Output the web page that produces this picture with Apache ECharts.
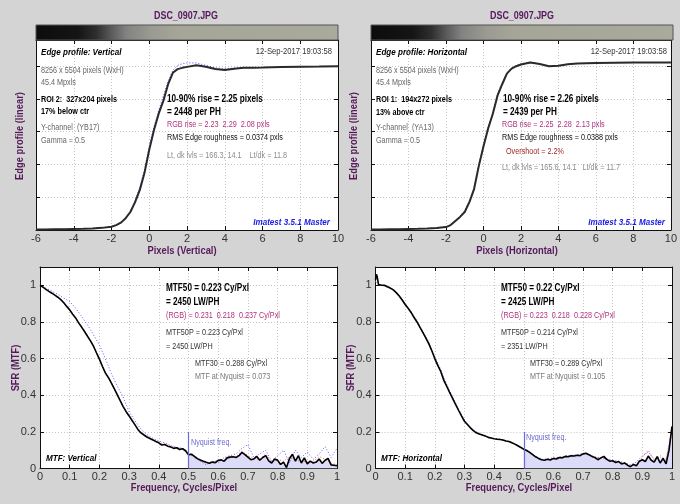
<!DOCTYPE html>
<html><head><meta charset="utf-8">
<script src="https://cdn.jsdelivr.net/npm/echarts@6/dist/echarts.min.js"></script>
<style>html,body{margin:0;padding:0;background:#d4d4d4;}#c{width:680px;height:504px;}</style>
</head><body><div id="c"></div>
<script>
// ---------- DATA ----------
const edgeX = [-6,-5.5,-5,-4.5,-4,-3.5,-3,-2.5,-2,-1.75,-1.5,-1.25,-1,-0.75,-0.5,-0.25,0,0.25,0.5,0.75,1,1.25,1.5,1.75,2,2.5,3,3.5,4,4.5,5,5.5,6,7,8,9,10];
const edgeV = [0.003,0.003,0.004,0.005,0.006,0.007,0.009,0.013,0.02,0.03,0.045,0.072,0.11,0.17,0.245,0.35,0.49,0.61,0.71,0.79,0.89,0.96,0.982,0.99,0.996,1.006,0.997,0.983,0.977,0.985,0.99,0.991,0.992,0.995,0.997,0.998,1.0];
const edgeBlueV = [0.004,0.004,0.005,0.006,0.007,0.008,0.01,0.014,0.022,0.032,0.048,0.075,0.115,0.18,0.26,0.37,0.51,0.63,0.73,0.82,0.91,0.975,1.005,1.015,1.02,1.02,1.005,0.99,0.985,0.988,0.99,0.99,0.992,0.994,0.996,0.997,0.998];
const edgeH = [0.003,0.003,0.004,0.005,0.006,0.007,0.009,0.012,0.018,0.03,0.055,0.08,0.11,0.17,0.25,0.39,0.51,0.62,0.71,0.82,0.89,0.955,0.985,1.0,1.01,1.022,1.013,1.0,1.003,1.012,1.016,1.018,1.02,1.021,1.022,1.022,1.022];
const edgeBlueH = [0.003,0.003,0.004,0.005,0.006,0.007,0.009,0.013,0.02,0.032,0.058,0.085,0.118,0.18,0.26,0.4,0.52,0.63,0.72,0.83,0.9,0.96,0.99,1.005,1.015,1.025,1.015,1.002,1.003,1.012,1.016,1.018,1.02,1.021,1.022,1.022,1.022];

const mtfFreqV = [0,0.01,0.02,0.03,0.04,0.05,0.06,0.07,0.08,0.09,0.1,0.11,0.12,0.13,0.14,0.15,0.16,0.17,0.18,0.19,0.2,0.21,0.22,0.23,0.24,0.25,0.26,0.27,0.28,0.29,0.3,0.31,0.32,0.33,0.34,0.35,0.36,0.37,0.38,0.39,0.4,0.41,0.42,0.43,0.44,0.45,0.46,0.47,0.48,0.49,0.5,0.51,0.52,0.53,0.54,0.55,0.56,0.57,0.58,0.59,0.6,0.61,0.62,0.63,0.64,0.65,0.66,0.67,0.68,0.69,0.7,0.71,0.72,0.73,0.74,0.75,0.76,0.77,0.78,0.79,0.8,0.81,0.82,0.83,0.84,0.85,0.86,0.87,0.88,0.89,0.9,0.91,0.92,0.93,0.94,0.95,0.96,0.97,0.98,0.99,1];
const mtfV = [1,0.99,0.978,0.967,0.957,0.946,0.935,0.922,0.905,0.885,0.866,0.842,0.822,0.795,0.772,0.748,0.722,0.697,0.668,0.632,0.597,0.558,0.522,0.497,0.468,0.436,0.403,0.37,0.338,0.31,0.287,0.262,0.238,0.212,0.194,0.183,0.172,0.164,0.156,0.147,0.14,0.128,0.131,0.122,0.118,0.11,0.113,0.104,0.108,0.097,0.075,0.078,0.066,0.054,0.046,0.04,0.034,0.029,0.035,0.032,0.044,0.047,0.04,0.058,0.062,0.064,0.06,0.07,0.088,0.076,0.062,0.048,0.052,0.066,0.045,0.06,0.07,0.042,0.03,0.052,0.045,0.022,0.035,0.005,0.055,0.078,0.04,0.07,0.03,0.058,0.025,0.04,0.03,0.035,0.052,0.028,0.045,0.055,0.02,0.018,0.015];

const mtfFreqH = [0,0.003,0.006,0.01,0.02,0.03,0.04,0.05,0.06,0.07,0.08,0.09,0.1,0.11,0.12,0.13,0.14,0.15,0.16,0.17,0.18,0.19,0.2,0.21,0.22,0.23,0.24,0.25,0.26,0.27,0.28,0.29,0.3,0.31,0.32,0.33,0.34,0.35,0.36,0.37,0.38,0.39,0.4,0.41,0.42,0.43,0.44,0.45,0.46,0.47,0.48,0.49,0.5,0.51,0.52,0.53,0.54,0.55,0.56,0.57,0.58,0.59,0.6,0.61,0.62,0.63,0.64,0.65,0.66,0.67,0.68,0.69,0.7,0.71,0.72,0.73,0.74,0.75,0.76,0.77,0.78,0.79,0.8,0.81,0.82,0.83,0.84,0.85,0.86,0.87,0.88,0.89,0.9,0.91,0.92,0.93,0.94,0.95,0.96,0.97,0.98,0.985,0.99,1];
const mtfH = [1.03,1.06,1.045,1.005,1,1,0.992,0.985,0.975,0.96,0.942,0.92,0.895,0.875,0.852,0.824,0.8,0.77,0.742,0.712,0.68,0.643,0.6,0.563,0.53,0.483,0.45,0.415,0.383,0.35,0.318,0.287,0.258,0.24,0.222,0.207,0.195,0.188,0.183,0.178,0.17,0.166,0.162,0.16,0.158,0.156,0.15,0.147,0.14,0.133,0.124,0.115,0.105,0.098,0.088,0.076,0.064,0.055,0.048,0.045,0.05,0.046,0.055,0.052,0.06,0.058,0.066,0.064,0.07,0.068,0.072,0.07,0.08,0.083,0.075,0.066,0.06,0.048,0.058,0.066,0.05,0.04,0.042,0.033,0.038,0.025,0.03,0.018,0.01,0.022,0.015,0.04,0.048,0.038,0.068,0.045,0.035,0.065,0.03,0.055,0.025,0.02,0.1,0.23];

const chFreq = [0,0.02,0.04,0.06,0.08,0.1,0.12,0.14,0.16,0.18,0.2,0.22,0.24,0.26,0.28,0.3,0.32,0.34,0.36,0.38,0.4,0.42,0.44,0.46,0.48,0.5,0.52,0.54,0.56,0.58,0.6,0.62,0.64,0.66,0.68,0.7,0.72,0.74,0.76,0.78,0.8,0.82,0.84,0.86,0.88,0.9,0.92,0.94,0.96,0.98,1];
const mtfBlueV = [1,0.985,0.968,0.95,0.93,0.912,0.875,0.83,0.785,0.73,0.675,0.6,0.52,0.45,0.39,0.31,0.26,0.215,0.185,0.165,0.15,0.14,0.125,0.115,0.11,0.09,0.06,0.04,0.02,0.04,0.03,0.06,0.07,0.08,0.11,0.13,0.06,0.08,0.1,0.04,0.07,0.1,0.03,0.1,0.06,0.09,0.05,0.08,0.12,0.06,0.11];
const mtfRedV = [1,0.978,0.957,0.935,0.905,0.866,0.822,0.772,0.722,0.668,0.597,0.522,0.468,0.403,0.338,0.287,0.238,0.2,0.175,0.158,0.142,0.133,0.12,0.115,0.108,0.08,0.062,0.04,0.03,0.03,0.05,0.045,0.07,0.065,0.095,0.07,0.055,0.05,0.08,0.035,0.05,0.04,0.065,0.045,0.04,0.035,0.04,0.065,0.05,0.03,0.02];
const mtfBlueH = [1.02,1,0.995,0.978,0.945,0.9,0.857,0.805,0.748,0.688,0.61,0.54,0.46,0.39,0.325,0.265,0.225,0.2,0.186,0.172,0.164,0.16,0.152,0.142,0.126,0.108,0.09,0.066,0.05,0.052,0.058,0.062,0.068,0.072,0.075,0.082,0.078,0.062,0.06,0.052,0.045,0.04,0.03,0.02,0.035,0.07,0.09,0.05,0.06,0.04,0.2];
const mtfRedH = [1.02,1,0.99,0.975,0.94,0.895,0.852,0.8,0.742,0.68,0.6,0.53,0.45,0.383,0.318,0.258,0.222,0.195,0.183,0.17,0.162,0.158,0.15,0.14,0.124,0.105,0.088,0.064,0.048,0.05,0.055,0.06,0.066,0.07,0.072,0.08,0.075,0.06,0.058,0.05,0.042,0.038,0.03,0.015,0.02,0.06,0.1,0.045,0.07,0.05,0.22];

const edgeTicks = [-6,-4,-2,0,2,4,6,8,10];
const mtfTicks = [0,0.1,0.2,0.3,0.4,0.5,0.6,0.7,0.8,0.9,1];
const nyquist = 0.5;

// ---------- HELPERS ----------
const FONT = 'Liberation Sans, Arial, sans-serif';
function zip(xs, ys) { return xs.map((x, i) => [x, ys[i]]); }
function T(x, y, text, o) {
  o = o || {};
  return {
    type: 'text', x: x, y: y, scaleX: o.sx || 0.85, rotation: o.rot || 0, z: 100, silent: true,
    style: {
      text: text, fontFamily: FONT, fontSize: o.size || 8.5,
      fontWeight: o.weight || 'normal', fontStyle: o.italic ? 'italic' : 'normal',
      fill: o.color || '#444', align: o.align || 'left', verticalAlign: 'middle',
      textAlign: o.align || 'left', textVerticalAlign: 'middle'
    }
  };
}
const gridLine = { show: true, lineStyle: { color: '#c4c4c4', type: [1, 2], width: 1 } };
const aLine = { show: true, onZero: false, lineStyle: { color: '#111', width: 1 } };
const aTick = { show: true, inside: true, length: 4, lineStyle: { color: '#111' } };
function xAx(grid, min, max, interval, pos, labels, fmt) {
  return {
    type: 'value', gridIndex: grid, min: min, max: max, interval: interval, position: pos,
    axisLine: aLine, axisTick: aTick, splitLine: pos === 'bottom' ? gridLine : { show: false },
    axisLabel: labels ? { show: true, color: '#333', fontSize: 11, fontFamily: FONT, margin: 3, formatter: fmt } : { show: false }
  };
}
function yAx(grid, min, max, interval, pos, labels, fmt) {
  return {
    type: 'value', gridIndex: grid, min: min, max: max, interval: interval, position: pos,
    axisLine: aLine, axisTick: aTick, splitLine: pos === 'left' ? gridLine : { show: false },
    axisLabel: labels ? { show: true, color: '#333', fontSize: 11, fontFamily: FONT, margin: 4, formatter: fmt } : { show: false }
  };
}
const mtfYFmt = v => (v > 1.001 ? '' : String(parseFloat(v.toFixed(1))));
const mtfXFmt = v => String(parseFloat(v.toFixed(1)));
const edgeXFmt = v => (edgeTicks.indexOf(Math.round(v)) >= 0 ? String(Math.round(v)) : '');

function line(xi, data, color, width, dotted, z) {
  return {
    type: 'line', xAxisIndex: xi, yAxisIndex: xi, data: data, symbol: 'none', smooth: false,
    lineStyle: { color: color, width: width, type: dotted ? [1, 2] : 'solid' }, z: z || 3, silent: true, animation: false
  };
}
function nyqArea(xi, fr, vals) {
  const d = zip(fr, vals).filter(p => p[0] >= nyquist);
  return {
    type: 'line', xAxisIndex: xi, yAxisIndex: xi, data: d, symbol: 'none',
    lineStyle: { width: 0, opacity: 0 }, areaStyle: { color: '#dcdcf8', opacity: 1 }, z: 1, silent: true, animation: false,
    markLine: {
      silent: true, symbol: 'none', label: { show: false }, animation: false,
      lineStyle: { color: '#6a6ad8', width: 1.2, type: 'solid' },
      data: [[{ coord: [nyquist, 0] }, { coord: [nyquist, 0.2] }]]
    }
  };
}
function gradBar(x, w) {
  return {
    type: 'rect', shape: { x: x, y: 25, width: w, height: 15 }, z: 50, silent: true,
    style: {
      stroke: '#555', lineWidth: 1,
      fill: { type: 'linear', x: 0, y: 0, x2: 1, y2: 0, colorStops: [
        { offset: 0, color: '#0c0c0c' }, { offset: 0.14, color: '#151515' }, { offset: 0.2, color: '#2e2e2e' },
        { offset: 0.25, color: '#5a5a5a' }, { offset: 0.3, color: '#828280' }, { offset: 0.38, color: '#9a9a92' },
        { offset: 0.48, color: '#a6a698' }, { offset: 1, color: '#a9a99c' } ] }
    }
  };
}

const purple = '#55185a', mag = '#b0307f', gray = '#8c8c8c', dark = '#333';
const graphics = [
  gradBar(36, 302), gradBar(371, 302),
  T(186, 16, 'DSC_0907.JPG', { size: 10.5, weight: 'bold', color: purple, align: 'center' }),
  T(522, 16, 'DSC_0907.JPG', { size: 10.5, weight: 'bold', color: purple, align: 'center' }),
  // axis names
  T(182, 251, 'Pixels (Vertical)', { size: 11, weight: 'bold', color: purple, align: 'center' }),
  T(517, 251, 'Pixels (Horizontal)', { size: 11, weight: 'bold', color: purple, align: 'center' }),
  T(20, 136, 'Edge profile (linear)', { size: 11, weight: 'bold', color: purple, align: 'center', rot: Math.PI / 2 }),
  T(354, 136, 'Edge profile (linear)', { size: 11, weight: 'bold', color: purple, align: 'center', rot: Math.PI / 2 }),
  T(16, 368, 'SFR (MTF)', { size: 11, weight: 'bold', color: purple, align: 'center', rot: Math.PI / 2 }),
  T(351, 368, 'SFR (MTF)', { size: 11, weight: 'bold', color: purple, align: 'center', rot: Math.PI / 2 }),
  T(184, 488, 'Frequency, Cycles/Pixel', { size: 11, weight: 'bold', color: purple, align: 'center' }),
  T(519, 488, 'Frequency, Cycles/Pixel', { size: 11, weight: 'bold', color: purple, align: 'center' }),
  // top-left panel
  T(41, 52, 'Edge profile: Vertical', { size: 9.5, weight: 'bold', italic: true, color: '#000' }),
  T(332, 52, '12-Sep-2017 19:03:58', { size: 9, color: dark, align: 'right' }),
  T(41, 71, '8256 x 5504 pixels (WxH)', { color: '#666' }),
  T(41, 83, '45.4 Mpxls', { color: '#666' }),
  T(41, 100, 'ROI 2:  327x204 pixels', { weight: 'bold', color: '#000' }),
  T(41, 112, '17% below ctr', { weight: 'bold', color: '#000' }),
  T(41, 128, 'Y-channel  (YB17)', { color: '#666' }),
  T(41, 141, 'Gamma = 0.5', { color: '#666' }),
  T(167, 99, '10-90% rise = 2.25 pixels', { size: 10.5, weight: 'bold', color: '#000', sx: 0.78 }),
  T(167, 112, '= 2448 per PH', { size: 10.5, weight: 'bold', color: '#000', sx: 0.78 }),
  T(167, 125, 'RGB rise = 2.23  2.29  2.08 pxls', { color: mag }),
  T(167, 138, 'RMS Edge roughness = 0.0374 pxls', { color: '#111' }),
  T(167, 156, 'Lt, dk lvls = 166.3, 14.1    Lt/dk = 11.8', { color: gray }),
  T(330, 222, 'Imatest 3.5.1 Master', { size: 9.5, weight: 'bold', italic: true, color: '#1c1ce0', align: 'right' }),
  // top-right panel
  T(376, 52, 'Edge profile: Horizontal', { size: 9.5, weight: 'bold', italic: true, color: '#000' }),
  T(667, 52, '12-Sep-2017 19:03:58', { size: 9, color: dark, align: 'right' }),
  T(376, 71, '8256 x 5504 pixels (WxH)', { color: '#666' }),
  T(376, 83, '45.4 Mpxls', { color: '#666' }),
  T(376, 100, 'ROI 1:  194x272 pixels', { weight: 'bold', color: '#000' }),
  T(376, 113, '13% above ctr', { weight: 'bold', color: '#000' }),
  T(376, 128, 'Y-channel  (YA13)', { color: '#666' }),
  T(376, 141, 'Gamma = 0.5', { color: '#666' }),
  T(503, 99, '10-90% rise = 2.26 pixels', { size: 10.5, weight: 'bold', color: '#000', sx: 0.78 }),
  T(503, 112, '= 2439 per PH', { size: 10.5, weight: 'bold', color: '#000', sx: 0.78 }),
  T(502, 125, 'RGB rise = 2.25  2.28  2.13 pxls', { color: mag }),
  T(502, 138, 'RMS Edge roughness = 0.0388 pxls', { color: '#111' }),
  T(506, 152, 'Overshoot = 2.2%', { color: '#a02828' }),
  T(502, 168, 'Lt, dk lvls = 165.6, 14.1   Lt/dk = 11.7', { color: gray }),
  T(665, 222, 'Imatest 3.5.1 Master', { size: 9.5, weight: 'bold', italic: true, color: '#1c1ce0', align: 'right' }),
  // bottom-left panel
  T(166, 288, 'MTF50 = 0.223 Cy/Pxl', { size: 10.5, weight: 'bold', color: '#000', sx: 0.78 }),
  T(166, 302, '= 2450 LW/PH', { size: 10.5, weight: 'bold', color: '#000', sx: 0.78 }),
  T(166, 316, '(RGB) = 0.231  0.218  0.237 Cy/Pxl', { color: mag }),
  T(166, 333, 'MTF50P = 0.223 Cy/Pxl', { color: dark }),
  T(166, 347, '= 2450 LW/PH', { color: dark }),
  T(195, 364, 'MTF30 = 0.288 Cy/Pxl', { color: dark }),
  T(195, 377, 'MTF at Nyquist = 0.073', { color: '#777' }),
  T(46, 458, 'MTF: Vertical', { size: 9.5, weight: 'bold', italic: true, color: '#000' }),
  T(191, 443, 'Nyquist freq.', { color: '#6a6ad0' }),
  // bottom-right panel
  T(501, 288, 'MTF50 = 0.22 Cy/Pxl', { size: 10.5, weight: 'bold', color: '#000', sx: 0.78 }),
  T(501, 302, '= 2425 LW/PH', { size: 10.5, weight: 'bold', color: '#000', sx: 0.78 }),
  T(501, 316, '(RGB) = 0.223  0.218  0.228 Cy/Pxl', { color: mag }),
  T(501, 333, 'MTF50P = 0.214 Cy/Pxl', { color: dark }),
  T(501, 347, '= 2351 LW/PH', { color: dark }),
  T(530, 364, 'MTF30 = 0.289 Cy/Pxl', { color: dark }),
  T(530, 377, 'MTF at Nyquist = 0.105', { color: '#777' }),
  T(381, 458, 'MTF: Horizontal', { size: 9.5, weight: 'bold', italic: true, color: '#000' }),
  T(526, 438, 'Nyquist freq.', { color: '#6a6ad0' })
];

const chart = echarts.init(document.getElementById('c'), null, { renderer: 'canvas' });
chart.setOption({
  backgroundColor: '#d4d4d4',
  animation: false,
  grid: [
    { left: 36, right: 342, top: 40, bottom: 274, show: true, backgroundColor: '#fff', borderWidth: 0 },
    { left: 371, right: 7, top: 40, bottom: 274, show: true, backgroundColor: '#fff', borderWidth: 0 },
    { left: 40, right: 343, top: 267, bottom: 35.5, show: true, backgroundColor: '#fff', borderWidth: 0 },
    { left: 375.5, right: 8, top: 267, bottom: 35.5, show: true, backgroundColor: '#fff', borderWidth: 0 }
  ],
  xAxis: [
    xAx(0, -6, 10, 2, 'bottom', true, edgeXFmt), xAx(0, -6, 10, 2, 'top', false),
    xAx(1, -6, 10, 2, 'bottom', true, edgeXFmt), xAx(1, -6, 10, 2, 'top', false),
    xAx(2, 0, 1, 0.1, 'bottom', true, mtfXFmt), xAx(2, 0, 1, 0.1, 'top', false),
    xAx(3, 0, 1, 0.1, 'bottom', true, mtfXFmt), xAx(3, 0, 1, 0.1, 'top', false)
  ],
  yAxis: [
    yAx(0, 0, 1.16, 0.2, 'left', false), yAx(0, 0, 1.16, 0.2, 'right', false),
    yAx(1, 0, 1.16, 0.2, 'left', false), yAx(1, 0, 1.16, 0.2, 'right', false),
    yAx(2, 0, 1.1, 0.2, 'left', true, mtfYFmt), yAx(2, 0, 1.1, 0.2, 'right', false),
    yAx(3, 0, 1.1, 0.2, 'left', true, mtfYFmt), yAx(3, 0, 1.1, 0.2, 'right', false)
  ],
  series: [
    line(0, zip(edgeX, edgeBlueV), '#4a4aff', 1, true, 2),
    line(0, zip(edgeX, edgeV), '#2a2a2a', 2, false, 4),
    line(2, zip(edgeX, edgeBlueH), '#4a4aff', 1, true, 2),
    line(2, zip(edgeX, edgeH), '#2a2a2a', 2, false, 4),
    nyqArea(4, mtfFreqV, mtfV),
    line(4, zip(chFreq, mtfBlueV), '#5a5aff', 1, true, 2),
    line(4, zip(chFreq, mtfRedV), '#ff5a5a', 1, true, 2),
    line(4, zip(mtfFreqV, mtfV), '#000', 1.6, false, 4),
    nyqArea(6, mtfFreqH, mtfH),
    line(6, zip(chFreq, mtfBlueH), '#5a5aff', 1, true, 2),
    line(6, zip(chFreq, mtfRedH), '#ff5a5a', 1, true, 2),
    line(6, zip(mtfFreqH, mtfH), '#000', 1.6, false, 4)
  ],
  graphic: graphics
});
</script></body></html>
